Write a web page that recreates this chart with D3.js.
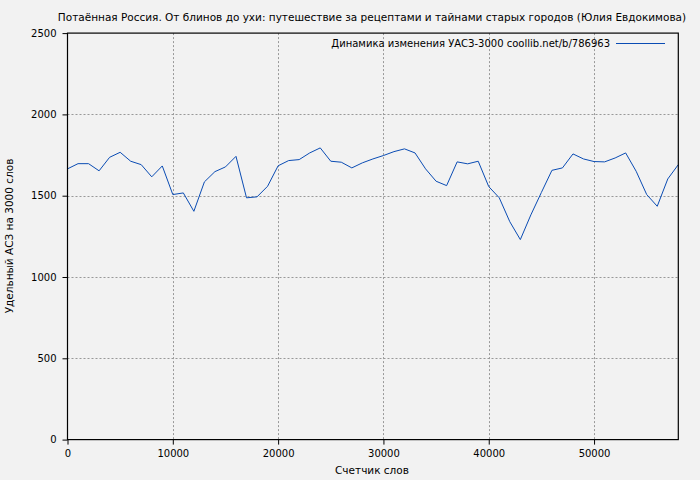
<!DOCTYPE html>
<html><head><meta charset="utf-8">
<script src="https://cdn.jsdelivr.net/npm/d3@7"></script>
<style>body{margin:0;background:#f2f2f2;} svg{display:block;}</style>
</head><body>
<svg id="c" width="700" height="480"></svg>
<script>
const title = "Потаённая Россия. От блинов до ухи: путешествие за рецептами и тайнами старых городов (Юлия Евдокимова)";
const legendLabel = "Динамика изменения УАСЗ-3000 coollib.net/b/786963";
const xLabel = "Счетчик слов";
const yLabel = "Удельный АСЗ на 3000 слов";
const xTicks = [0, 10000, 20000, 30000, 40000, 50000];
const yTicks = [0, 500, 1000, 1500, 2000, 2500];
const words = [0,1000,2000,3000,4000,5000,6000,7000,8000,9000,10000,11000,12000,13000,14000,15000,16000,17000,18000,19000,20000,21000,22000,23000,24000,25000,26000,27000,28000,29000,30000,31000,32000,33000,34000,35000,36000,37000,38000,39000,40000,41000,42000,43000,44000,45000,46000,47000,48000,49000,50000,51000,52000,53000,54000,55000,56000,57000,58000];
const uasz = [1665,1697,1697,1653,1736,1767,1712,1691,1616,1683,1507,1517,1404,1585,1648,1677,1742,1487,1493,1558,1684,1716,1722,1763,1794,1712,1706,1671,1702,1726,1747,1771,1788,1763,1665,1589,1562,1708,1696,1712,1556,1487,1340,1230,1382,1520,1656,1671,1757,1726,1710,1708,1732,1763,1650,1507,1435,1603,1691];

const svg = d3.select("#c");
const font = "DejaVu Sans, Verdana, sans-serif";
const L = 67.5, R = 678.3, T = 33.1, B = 439.6;
const x = d3.scaleLinear().domain([0, 58000]).range([L, R]);
const y = d3.scaleLinear().domain([0, 2500]).range([B, T]);

svg.append("rect").attr("width",700).attr("height",480).attr("fill","#f2f2f2");

// grid
const g = svg.append("g");
g.selectAll(".vg").data(xTicks.filter(d=>d>0)).join("line")
  .attr("x1",d=>Math.round(x(d))+0.5).attr("x2",d=>Math.round(x(d))+0.5)
  .attr("y1",T).attr("y2",B).attr("stroke","#999").attr("stroke-dasharray","2,2");
g.selectAll(".hg").data(yTicks.filter(d=>d>0 && d<2500)).join("line")
  .attr("y1",d=>Math.round(y(d))+0.5).attr("y2",d=>Math.round(y(d))+0.5)
  .attr("x1",L).attr("x2",R).attr("stroke","#999").attr("stroke-dasharray","2,2");

// line
const line = d3.line().x((d,i)=>x(words[i])).y(d=>y(d));
svg.append("path").datum(uasz).attr("d",line).attr("fill","none")
  .attr("stroke","#0a4cb4").attr("stroke-width",1);

// frame
svg.append("rect").attr("x",L).attr("y",T).attr("width",R-L).attr("height",B-T)
  .attr("fill","none").attr("stroke","#000").attr("stroke-width",1.2);

// axes
const xa = svg.append("g").attr("transform",`translate(0,${B})`)
  .call(d3.axisBottom(x).tickValues(xTicks).tickSize(5).tickPadding(5).tickFormat(d3.format("d")));
const ya = svg.append("g").attr("transform",`translate(${L},0)`)
  .call(d3.axisLeft(y).tickValues(yTicks).tickSize(5).tickPadding(6).tickFormat(d3.format("d")));
[xa,ya].forEach(a=>{
  a.select(".domain").remove();
  a.selectAll("text").attr("font-family",font).attr("font-size",10).attr("fill","#000");
  a.selectAll("line").attr("stroke","#000");
});

// texts
svg.append("text").attr("x",372).attr("y",21).attr("text-anchor","middle")
  .attr("font-family",font).attr("font-size",10.5).text(title);
svg.append("text").attr("x",372).attr("y",474).attr("text-anchor","middle")
  .attr("font-family",font).attr("font-size",10.5).text(xLabel);
svg.append("text").attr("transform","translate(13,236) rotate(-90)").attr("text-anchor","middle")
  .attr("font-family",font).attr("font-size",10.5).text(yLabel);

// legend
svg.append("text").attr("x",610).attr("y",47).attr("text-anchor","end")
  .attr("font-family",font).attr("font-size",10).text(legendLabel);
svg.append("line").attr("x1",616).attr("x2",665).attr("y1",43.5).attr("y2",43.5)
  .attr("stroke","#0a4cb4").attr("stroke-width",1);
</script>
</body></html>
